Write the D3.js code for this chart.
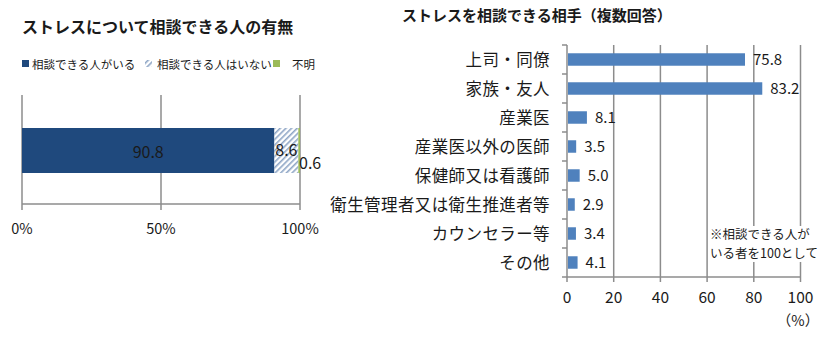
<!DOCTYPE html>
<html><head><meta charset="utf-8">
<script src="https://cdn.jsdelivr.net/npm/d3@7"></script>
<style>body{margin:0;background:#fff;}svg{display:block;font-family:"Noto Sans CJK JP",sans-serif;}</style>
</head><body><svg id="c" width="837" height="343"></svg>
<script>
// Left chart data
const leftSeries = ["相談できる人がいる", "相談できる人はいない", "不明"];
const leftValues = [90.8, 8.6, 0.6];
const leftTicks = [0, 50, 100];
// Right chart data
const rightCategories = ["上司・同僚", "家族・友人", "産業医", "産業医以外の医師", "保健師又は看護師", "衛生管理者又は衛生推進者等", "カウンセラー等", "その他"];
const rightValues = [75.8, 83.2, 8.1, 3.5, 5.0, 2.9, 3.4, 4.1];
const rightTicks = [0, 20, 40, 60, 80, 100];

const svg = d3.select("#c");
const grid = "#8c8c8c";
const defs = svg.append("defs");
const pat = defs.append("pattern").attr("id","hatch").attr("patternUnits","userSpaceOnUse")
  .attr("width",4).attr("height",4).attr("patternTransform","rotate(45)");
pat.append("rect").attr("width",4).attr("height",4).attr("fill","#fff");
pat.append("rect").attr("width",1.6).attr("height",4).attr("fill","#8ea6c6");

// ---------- Left chart ----------
svg.append("text").attr("x",22).attr("y",33).attr("font-size",16).attr("font-weight","bold")
  .attr("fill","#1a1a1a").text("ストレスについて相談できる人の有無");
const lx = d3.scaleLinear().domain([0,100]).range([22,300]);
const lTop = 95, lBot = 204;
const lg = svg.append("g");
lg.selectAll("line.g").data(leftTicks).join("line").attr("x1",d=>lx(d)).attr("x2",d=>lx(d))
  .attr("y1",lTop).attr("y2",lBot+6).attr("stroke",grid).attr("stroke-width",1.5);
lg.append("line").attr("x1",lx(0)).attr("x2",lx(100)).attr("y1",lBot).attr("y2",lBot).attr("stroke",grid).attr("stroke-width",1.5);
lg.selectAll("text.t").data(leftTicks).join("text").attr("x",d=>lx(d)).attr("y",234)
  .attr("text-anchor","middle").attr("font-size",14.5).attr("fill","#1a1a1a").text(d=>d+"%");
const lColors = ["#1f497d","url(#hatch)","#9bbb59"];
let cum = 0;
const segs = leftValues.map((v,i)=>{const s={v,i,x0:cum,x1:cum+v};cum+=v;return s;});
lg.selectAll("rect.s").data(segs).join("rect").attr("x",d=>lx(d.x0)).attr("width",d=>lx(d.x1)-lx(d.x0))
  .attr("y",128).attr("height",45).attr("fill",d=>lColors[d.i]);
lg.append("text").attr("x",(lx(segs[0].x0)+lx(segs[0].x1))/2).attr("y",158).attr("text-anchor","middle")
  .attr("font-size",16).attr("fill","#1a1a1a").text(leftValues[0].toFixed(1));
lg.append("text").attr("x",(lx(segs[1].x0)+lx(segs[1].x1))/2).attr("y",156).attr("text-anchor","middle")
  .attr("font-size",16).attr("fill","#1a1a1a").text(leftValues[1].toFixed(1));
lg.append("text").attr("x",299).attr("y",169).attr("font-size",16).attr("fill","#1a1a1a").text(leftValues[2].toFixed(1));
// legend
const legX = [22, 145, 273];
const legT = [10, 12, 19];
const leg = lg.selectAll("g.l").data(leftSeries).join("g").attr("transform",(d,i)=>`translate(${legX[i]},0)`);
leg.append("rect").attr("x",0).attr("y",60).attr("width",7).attr("height",7).attr("fill",(d,i)=>lColors[i]);
leg.append("text").attr("x",(d,i)=>legT[i]).attr("y",69).attr("font-size",11.5).attr("fill","#1a1a1a").text(d=>d);

// ---------- Right chart ----------
svg.append("text").attr("x",402).attr("y",21).attr("font-size",15).attr("font-weight","bold")
  .attr("fill","#1a1a1a").text("ストレスを相談できる相手（複数回答）");
const rx = d3.scaleLinear().domain([0,100]).range([567,800.5]);
const ry = d3.scaleBand().domain(rightCategories).range([45,277]).paddingInner(0.57).paddingOuter(0.285);
const rg = svg.append("g");
rg.selectAll("line.g").data(rightTicks).join("line").attr("x1",d=>rx(d)).attr("x2",d=>rx(d))
  .attr("y1",45).attr("y2",282).attr("stroke",grid).attr("stroke-width",1.5);
rg.append("line").attr("x1",rx(0)).attr("x2",rx(100)).attr("y1",277).attr("y2",277).attr("stroke",grid).attr("stroke-width",1.5);
const bounds = d3.range(rightCategories.length+1).map(i=>45+i*(277-45)/rightCategories.length);
rg.selectAll("line.yt").data(bounds).join("line").attr("x1",rx(0)-5).attr("x2",rx(0))
  .attr("y1",d=>d).attr("y2",d=>d).attr("stroke",grid).attr("stroke-width",1.5);
rg.selectAll("text.xt").data(rightTicks).join("text").attr("x",d=>rx(d)).attr("y",303)
  .attr("text-anchor","middle").attr("font-size",15.5).attr("fill","#1a1a1a").text(d=>d);
rg.append("text").attr("x",798).attr("y",326).attr("text-anchor","middle").attr("font-size",14.5).attr("fill","#1a1a1a").text("（%）");
// note box
rg.append("rect").attr("x",708).attr("y",226).attr("width",106).attr("height",36).attr("fill","#fff");
rg.append("text").attr("x",710).attr("y",239).attr("font-size",12.5).attr("fill","#1a1a1a").text("※相談できる人が");
rg.append("text").attr("x",710).attr("y",258).attr("font-size",12.5).attr("fill","#1a1a1a").text("いる者を100として");
// bars
rg.selectAll("rect.b").data(rightValues).join("rect").attr("x",rx(0)+1).attr("y",(d,i)=>ry(rightCategories[i]))
  .attr("width",d=>rx(d)-rx(0)).attr("height",ry.bandwidth()).attr("fill","#4f81bd");
rg.selectAll("text.v").data(rightValues).join("text").attr("x",d=>rx(d)+9)
  .attr("y",(d,i)=>ry(rightCategories[i])+ry.bandwidth()/2+5.5).attr("font-size",15).attr("fill","#1a1a1a").text(d=>d.toFixed(1));
rg.selectAll("text.c").data(rightCategories).join("text").attr("x",550)
  .attr("y",d=>ry(d)+ry.bandwidth()/2+6).attr("text-anchor","end").attr("font-size",16.5)
  .attr("letter-spacing",0.4).attr("fill","#1a1a1a").text(d=>d);
</script></body></html>
